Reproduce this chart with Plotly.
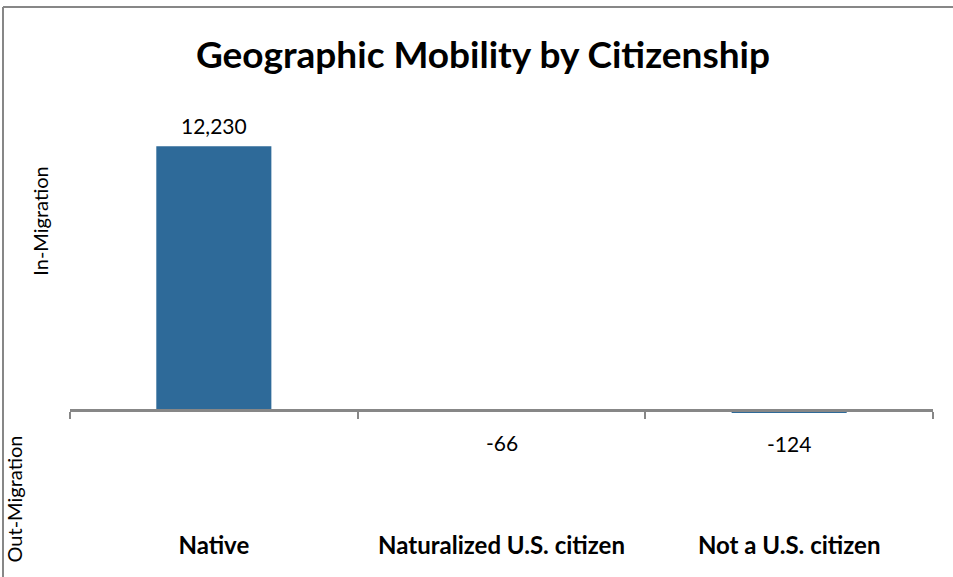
import plotly.graph_objects as go

categories = ["Native", "Naturalized U.S. citizen", "Not a U.S. citizen"]
values = [12230, -66, -124]
title_text = "Geographic Mobility by Citizenship"
axis_labels = ["In-Migration", "Out-Migration"]

FONT = "Lato"
BAR_COLOR = "#2E6A99"
GRAY = "#878787"

ymin, ymax = -5500, 14000
zero_frac = (0 - ymin) / (ymax - ymin)

fig = go.Figure()
fig.add_trace(go.Bar(
    x=categories, y=values, marker=dict(color=BAR_COLOR, line=dict(width=0)),
    width=0.4, hoverinfo="skip", showlegend=False, xaxis="x", yaxis="y",
))
# invisible trace carrying the bottom category labels
fig.add_trace(go.Scatter(
    x=categories, y=[0] * len(categories), mode="markers",
    marker=dict(opacity=0), hoverinfo="skip", showlegend=False,
    xaxis="x2", yaxis="y",
))

for c, v in zip(categories, values):
    fig.add_annotation(
        x=c, y=v, xref="x", yref="y", text=f"{v:,}", showarrow=False,
        yanchor="middle", yshift=21 if v >= 0 else -31,
        font=dict(family=FONT, size=21, color="#000000"),
    )

fig.add_annotation(x=0, y=0.73, xref="paper", yref="paper", text=axis_labels[0],
                   textangle=-90, showarrow=False, xanchor="center", yanchor="middle",
                   xshift=-30, font=dict(family=FONT, size=20, color="#000000"))
fig.add_annotation(x=0, y=0.07, xref="paper", yref="paper", text=axis_labels[1],
                   textangle=-90, showarrow=False, xanchor="center", yanchor="middle",
                   xshift=-56, font=dict(family=FONT, size=20, color="#000000"))

# chart outline (top and left edges visible)
L, T = 70, 108
PW, PH = 863, 421
def px(xp):
    return (xp - L) / PW
def py(yp):
    return (T + PH - yp) / PH
fig.add_shape(type="line", xref="paper", yref="paper", x0=px(3), x1=px(960),
              y0=py(7), y1=py(7), line=dict(color=GRAY, width=2))
fig.add_shape(type="line", xref="paper", yref="paper", x0=px(3), x1=px(3),
              y0=py(7), y1=py(590), line=dict(color=GRAY, width=2))

fig.update_layout(
    width=953, height=577,
    margin=dict(l=L, r=953 - L - PW, t=T, b=577 - T - PH),
    paper_bgcolor="white", plot_bgcolor="white",
    title=dict(text=f"<b>{title_text}</b>", x=483 / 953, xanchor="center",
               y=1 - 55 / 577, yanchor="middle", yref="container",
               font=dict(family=FONT, size=37, color="#000000")),
    xaxis=dict(type="category", range=[-0.5, 2.5], anchor="free", position=zero_frac,
               showline=True, linecolor=GRAY, linewidth=3, ticks="outside",
               tickson="boundaries", ticklen=7, tickcolor=GRAY, tickwidth=2,
               showticklabels=False, showgrid=False, zeroline=False, layer="above traces"),
    xaxis2=dict(type="category", range=[-0.5, 2.5], overlaying="x", anchor="y",
                side="bottom", showline=False, ticks="", showgrid=False,
                zeroline=False, tickfont=dict(family=FONT, size=24, color="#000000"),
                tickprefix="<b>", ticksuffix="</b>"),
    yaxis=dict(range=[ymin, ymax], showticklabels=False, showgrid=False,
               zeroline=False, showline=False, ticks=""),
    bargap=0.6,
)

fig.write_html("out.html", config={"displayModeBar": False},
               post_script="document.body.style.margin='0px';document.body.style.overflow='hidden';")
